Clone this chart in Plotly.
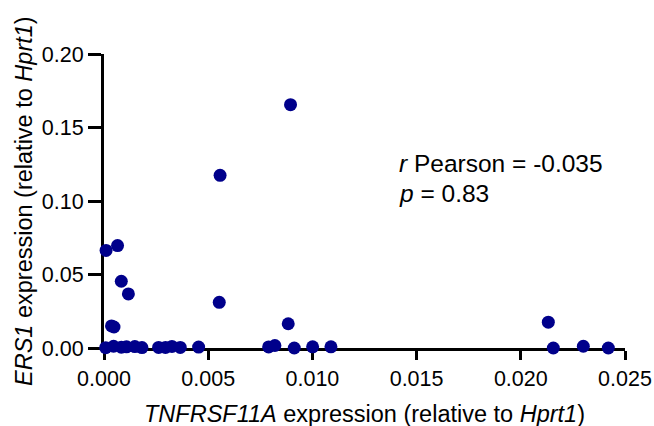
import plotly.graph_objects as go

# TNFRSF11A expression (relative to Hprt1)
tnfrsf11a = [
    0.00010, 0.00065, 0.00083, 0.00117, 0.00036, 0.00048,
    0.00553, 0.00557, 0.00895, 0.00884, 0.02132,
    0.00008, 0.00046, 0.00083, 0.00108, 0.00148, 0.00182,
    0.00262, 0.00295, 0.00326, 0.00366, 0.00454,
    0.00790, 0.00820, 0.00913, 0.01001, 0.01089,
    0.02156, 0.02300, 0.02420,
]
# ERS1 expression (relative to Hprt1)
ers1 = [
    0.0664, 0.0697, 0.0454, 0.0368, 0.0150, 0.0143,
    0.0311, 0.1175, 0.1655, 0.0165, 0.0176,
    0.0002, 0.0012, 0.0005, 0.0008, 0.0010, 0.0003,
    0.0004, 0.0004, 0.0011, 0.0004, 0.0006,
    0.0007, 0.0017, 0.0000, 0.0008, 0.0008,
    0.0000, 0.0012, 0.0000,
]
x_ticks = [0.000, 0.005, 0.010, 0.015, 0.020, 0.025]
x_tick_labels = ["0.000", "0.005", "0.010", "0.015", "0.020", "0.025"]
y_ticks = [0.00, 0.05, 0.10, 0.15, 0.20]
y_tick_labels = ["0.00", "0.05", "0.10", "0.15", "0.20"]
x_title = "<i>TNFRSF11A</i> expression (relative to <i>Hprt1</i>)"
y_title = "<i>ERS1</i> expression (relative to <i>Hprt1</i>)"
stats_lines = ["<i>r</i> Pearson = -0.035", "<i>p</i> = 0.83"]
stats_pos = [(0.01406, 0.1255), (0.01406, 0.1051)]

FONT = "Liberation Sans, Arial, sans-serif"

fig = go.Figure()
fig.add_trace(go.Scatter(
    x=tnfrsf11a, y=ers1, mode="markers",
    marker=dict(size=13, color="#00008B", line=dict(width=0)),
    cliponaxis=False, showlegend=False,
))

axis_common = dict(
    showgrid=False, zeroline=False, showline=True, linecolor="black", linewidth=3,
    ticks="outside", tickwidth=2.5, tickcolor="black",
    tickfont=dict(family=FONT, size=21.5, color="black"),
    layer="below traces", automargin=False,
)

annotations = [
    dict(x=0.5, y=0, xref="paper", yref="paper", xanchor="center", yanchor="middle",
         yshift=-66, text=x_title, showarrow=False,
         font=dict(family=FONT, size=23.5, color="black")),
    dict(x=0, y=0.5, xref="paper", yref="paper", xanchor="center", yanchor="middle",
         xshift=-80, textangle=-90, text=y_title, showarrow=False,
         font=dict(family=FONT, size=23.5, color="black")),
]
for (sx, sy), line in zip(stats_pos, stats_lines):
    annotations.append(dict(
        x=sx, y=sy, xref="x", yref="y", xanchor="left", yanchor="middle",
        text=line, showarrow=False, align="left",
        font=dict(family=FONT, size=24.5, color="black"),
    ))

fig.update_layout(
    width=654, height=426,
    margin=dict(l=104, r=29, t=54, b=78),
    plot_bgcolor="white", paper_bgcolor="white",
    xaxis=dict(range=[0, 0.025], tickvals=x_ticks, ticktext=x_tick_labels,
               ticklen=9, **axis_common),
    yaxis=dict(range=[0, 0.20], tickvals=y_ticks, ticktext=y_tick_labels,
               ticklen=13, **axis_common),
    annotations=annotations,
)

fig.write_html(
    "out.html",
    config={"displayModeBar": False},
    post_script="document.body.style.margin='0';document.body.style.overflow='hidden';",
)
